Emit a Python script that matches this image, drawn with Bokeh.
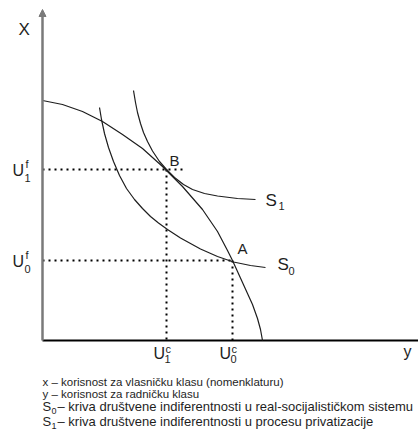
from bokeh.plotting import figure
from bokeh.models import Range1d, Arrow, NormalHead
from bokeh.core.properties import value
from bokeh.embed import file_html
from bokeh.resources import INLINE

# ---------------- data (utility units, origin at the corner of the axes) ----------------
# utility-possibility frontier
frontier_worker = [0, 20, 40, 60, 80, 100, 120, 140, 160, 175, 185, 190, 195, 200, 205, 210, 215, 218, 220]
frontier_owner = [240, 236, 229, 219, 206, 192, 174, 154, 131, 109, 90, 80, 69, 58, 47, 36, 22, 11, 0]
# social indifference curve S1 (privatisation)
s1_worker = [91, 93, 95, 98, 101, 105, 110, 117, 124, 132, 141, 150, 162, 175, 195, 213]
s1_owner = [250, 238, 228, 217, 208, 199, 189.5, 179, 171, 163, 156, 151, 147, 144.5, 142, 141]
# social indifference curve S0 (real-socialist system)
s0_worker = [57, 59, 62, 66, 71, 77, 84, 92, 100, 108, 116, 125, 138, 158, 175, 191, 208, 223]
s0_owner = [233, 221, 207, 193, 179, 165, 152, 141, 132, 124, 117.5, 111, 102.5, 91.5, 84, 78.5, 75, 73]
# equilibrium points
point_names = ["B", "A"]
point_worker = [124, 190]
point_owner = [171, 80]
point_sub = ["1", "0"]
b_dotted_end = 140
owner_axis_top = 331
worker_axis_end = 380
axis_titles = ["X", "y"]
legend_plain = ["x – korisnost za vlasničku klasu (nomenklaturu)",
                "y – korisnost za radničku klasu"]
legend_curves = [("0", " – kriva društvene indiferentnosti u real-socijalističkom sistemu"),
                 ("1", " – kriva društvene indiferentnosti u procesu privatizacije")]

FONT = value("Liberation Sans")
INK = "#1e1e1e"

p = figure(width=418, height=440, output_backend="svg", toolbar_location=None,
           x_range=Range1d(-42, 376), y_range=Range1d(-100, 340),
           x_axis_type=None, y_axis_type=None, min_border=0)
p.grid.visible = False
p.outline_line_color = None


def label(x, y, txt, size, dx=0, dy=0):
    # small upward correction so the drawn baseline sits where intended
    p.text(x=[x], y=[y], text=[txt], x_offset=dx, y_offset=dy - round(0.33 * size),
           text_font=FONT, text_font_size=f"{size}px", text_color=INK,
           text_align="left", text_baseline="alphabetic")


# axes
p.segment(x0=[0], y0=[0], x1=[worker_axis_end], y1=[0], line_color="black", line_width=2)
p.add_layout(Arrow(end=NormalHead(size=7, fill_color="#7a7a7a", line_color="#7a7a7a"),
                   x_start=0, y_start=0, x_end=0, y_end=owner_axis_top,
                   line_color="#7a7a7a", line_width=2.5))

# dotted guides
bw, aw = point_worker
bo, ao = point_owner
p.segment(x0=[0, 0, bw, aw], y0=[bo, ao, bo, ao],
          x1=[b_dotted_end, aw, bw, aw], y1=[bo, ao, 0, 0],
          line_color="black", line_width=2, line_dash="2 4")

# curves
p.line(frontier_worker, frontier_owner, line_color=INK, line_width=1.2)
p.line(s1_worker, s1_owner, line_color=INK, line_width=1.2)
p.line(s0_worker, s0_owner, line_color=INK, line_width=1.2)

# axis titles
label(0, owner_axis_top, axis_titles[0], 17, dx=-24, dy=26)
label(0, 0, axis_titles[1], 16, dx=361, dy=16)

# point labels and U labels
for name, w, o, sub in zip(point_names, point_worker, point_owner, point_sub):
    label(w, o, name, 15, dx=3 if name == "B" else 5, dy=-4 if name == "B" else -7)
    # vertical-axis label U^f
    label(0, o, "U", 16, dx=-30, dy=6)
    label(0, o, "f", 11, dx=-17, dy=-2)
    label(0, o, sub, 11, dx=-18, dy=12)
    # horizontal-axis label U^c
    label(w, 0, "U", 16, dx=-13, dy=18)
    label(w, 0, "c", 11, dx=-1, dy=12)
    label(w, 0, sub, 11, dx=-2, dy=22)

# curve labels
label(s1_worker[-1], s1_owner[-1], "S", 17, dx=10, dy=7)
label(s1_worker[-1], s1_owner[-1], "1", 11, dx=23, dy=10)
label(s0_worker[-1], s0_owner[-1], "S", 17, dx=12, dy=3)
label(s0_worker[-1], s0_owner[-1], "0", 11, dx=23, dy=7)

# legend below the chart
legend_base = [-45, -57, -70, -85]
for txt, yb in zip(legend_plain, legend_base[:2]):
    label(0, yb, txt, 11.5)
for (sub, txt), yb in zip(legend_curves, legend_base[2:]):
    label(0, yb, "S", 13)
    label(0, yb, sub, 9, dx=9, dy=3)
    label(0, yb, txt, 13, dx=15)

open("out.html", "w").write(file_html(p, INLINE))
